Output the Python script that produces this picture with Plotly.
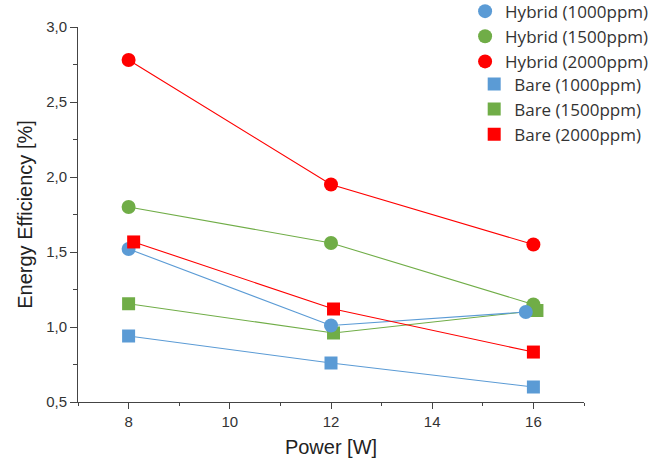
import plotly.graph_objects as go

# ---- data ----
power_h1000 = [8, 12, 15.85]
power_h1500 = [8, 12, 16]
power_h2000 = [8, 12, 16]
power_b1000 = [8, 12, 16]
power_b1500 = [8, 12.05, 16.07]
power_b2000 = [8.1, 12.05, 16]

eff_h1000 = [1.52, 1.01, 1.10]
eff_h1500 = [1.80, 1.56, 1.15]
eff_h2000 = [2.78, 1.95, 1.55]
eff_b1000 = [0.94, 0.76, 0.60]
eff_b1500 = [1.155, 0.96, 1.11]
eff_b2000 = [1.567, 1.12, 0.833]

names_h = ["Hybrid (1000ppm)", "Hybrid (1500ppm)", "Hybrid (2000ppm)"]
names_b = ["Bare (1000ppm)", "Bare (1500ppm)", "Bare (2000ppm)"]

BLUE, GREEN, RED = "#5B9BD5", "#70AD47", "#FF0000"

series = [
    # (x, y, name, color, symbol, legend)
    (power_b1000, eff_b1000, names_b[0], BLUE, "square", "legend2"),
    (power_h1500, eff_h1500, names_h[1], GREEN, "circle", "legend"),
    (power_b1500, eff_b1500, names_b[1], GREEN, "square", "legend2"),
    (power_h1000, eff_h1000, names_h[0], BLUE, "circle", "legend"),
    (power_h2000, eff_h2000, names_h[2], RED, "circle", "legend"),
    (power_b2000, eff_b2000, names_b[2], RED, "square", "legend2"),
]
legend_rank = {n: i for i, n in enumerate(names_h + names_b)}

fig = go.Figure()
for x, y, name, color, sym, lg in series:
    fig.add_trace(go.Scatter(x=x, y=y, mode="lines", line=dict(color=color, width=1.1),
                             showlegend=False, hoverinfo="skip"))
for x, y, name, color, sym, lg in series:
    fig.add_trace(go.Scatter(x=x, y=y, mode="markers", name=name, legend=lg,
                             legendrank=legend_rank[name],
                             marker=dict(color=color, symbol=sym,
                                         size=14 if sym == "circle" else 13,
                                         line=dict(width=0))))

axis_common = dict(
    showline=True, linecolor="#444", linewidth=1, ticks="outside", tickcolor="#444",
    showgrid=False, zeroline=False, mirror=False,
    tickfont=dict(family="Liberation Sans, Arial", size=15, color="#333"),
)

title_font = dict(family="Liberation Sans, Arial", size=20, color="#222")
legend_font = dict(family="Open Sans", size=17, color="#333")

fig.update_layout(
    width=670, height=463,
    margin=dict(l=78, r=86, t=27, b=61, autoexpand=False),
    plot_bgcolor="white", paper_bgcolor="white",
    separators=",.",
    xaxis=dict(range=[7, 17], dtick=2, tick0=0, ticklen=6,
               minor=dict(dtick=1, tick0=0, ticklen=3, ticks="outside", tickcolor="#444"),
               title=dict(text="Power [W]", standoff=10, font=title_font),
               **axis_common),
    yaxis=dict(range=[0.5, 3.0], dtick=0.5, tick0=0, ticklen=7, tickformat=".1f",
               minor=dict(dtick=0.25, tick0=0, ticklen=4, ticks="outside", tickcolor="#444"),
               title=dict(text="Energy Efficiency [%]", standoff=8, font=title_font),
               **axis_common),
    legend=dict(x=0.765, y=1.089, xanchor="left", yanchor="top", bgcolor="rgba(0,0,0,0)",
                font=legend_font, traceorder="normal"),
    legend2=dict(x=0.783, y=0.895, xanchor="left", yanchor="top", bgcolor="rgba(0,0,0,0)",
                 font=legend_font, traceorder="normal"),
    showlegend=True,
)

fig.write_html("out.html", config={"displayModeBar": False},
               post_script="document.body.style.margin='0';")
